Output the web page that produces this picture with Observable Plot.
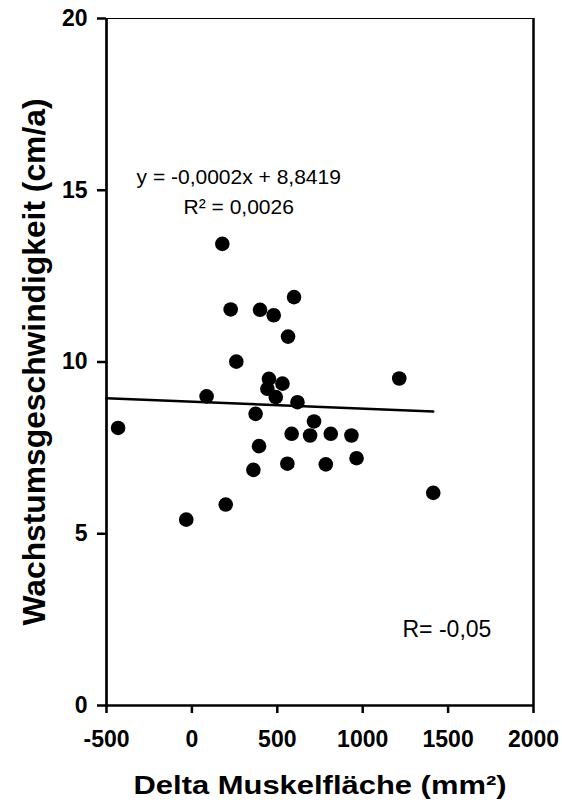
<!DOCTYPE html>
<html>
<head>
<meta charset="utf-8">
<script src="https://cdn.jsdelivr.net/npm/d3@7"></script>
<script src="https://cdn.jsdelivr.net/npm/@observablehq/plot@0.6"></script>
<style>
  html, body { margin: 0; padding: 0; background: #fff; }
</style>
</head>
<body>
<div id="chart"></div>
<script>
// Delta Muskelfläche (mm²)
const deltaMuskel = [-432, -33, 86, 178, 198, 227, 260, 360, 373, 393, 399, 442, 451, 479, 491, 530, 559, 563, 584, 598, 618, 692, 715, 784, 813, 934, 964, 1214, 1413];
// Wachstumsgeschwindigkeit (cm/a)
const wachstum = [8.08, 5.41, 9.00, 13.44, 5.85, 11.53, 10.01, 6.86, 8.49, 7.55, 11.52, 9.22, 9.51, 11.36, 8.98, 9.37, 7.04, 10.74, 7.91, 11.89, 8.83, 7.86, 8.27, 7.02, 7.91, 7.86, 7.20, 9.52, 6.19];

const xTicks = [-500, 0, 500, 1000, 1500, 2000];
const yTicks = [0, 5, 10, 15, 20];

// trendline from the chart's own equation
const slope = -0.0002;
const intercept = 8.8419;
const trendX = [-500, d3.max(deltaMuskel)];

const eqLines = ["y = -0,0002x + 8,8419", "R² = 0,0026"];
const eqX = [274, 274];
const eqY = [15.17, 14.32];
const rLabel = "R= -0,05";
const rX = 1233, rY = 1.99;

const xLabel = "Delta Muskelfläche (mm²)";
const yLabel = "Wachstumsgeschwindigkeit (cm/a)";

const points = deltaMuskel.map((x, i) => ({x, y: wachstum[i]}));
const trend = trendX.map(x => ({x, y: slope * x + intercept}));
const eq = eqLines.map((t, i) => ({t, x: eqX[i], y: eqY[i]}));

const chart = Plot.plot({
  width: 562,
  height: 806,
  marginLeft: 106,
  marginRight: 29,
  marginTop: 18,
  marginBottom: 101,
  style: {fontFamily: "'Liberation Sans', Arial, sans-serif", background: "#fff", color: "#000"},
  x: {domain: [-500, 2000]},
  y: {domain: [0, 20]},
  marks: [
    Plot.ruleY([20], {stroke: "#000", strokeWidth: 1}),
    Plot.ruleX([2000], {stroke: "#000", strokeWidth: 2.5}),
    Plot.line(trend, {x: "x", y: "y", stroke: "#000", strokeWidth: 2.5}),
    Plot.dot(points, {x: "x", y: "y", r: 7.3, fill: "#000", stroke: "none"}),
    Plot.ruleX([-500], {stroke: "#000", strokeWidth: 2.7}),
    Plot.ruleY([0], {stroke: "#000", strokeWidth: 2.7}),
    Plot.axisX({ticks: xTicks, tickSize: 8, tickPadding: 17, fontSize: 23, fontWeight: "bold", strokeWidth: 2.5, tickFormat: d => String(d), label: null}),
    Plot.axisY({ticks: yTicks, tickSize: 9, tickPadding: 10, fontSize: 23, fontWeight: "bold", strokeWidth: 2.5, tickFormat: d => String(d), label: null}),
    Plot.text(eq, {x: "x", y: "y", text: "t", fontSize: 21, textAnchor: "middle", lineAnchor: "bottom", fill: "#000"}),
    Plot.text([rLabel], {x: rX, y: rY, text: d => d, fontSize: 23, textAnchor: "start", lineAnchor: "bottom", fill: "#000"}),
    Plot.text([xLabel], {frameAnchor: "bottom", text: d => d, dy: 88, textAnchor: "middle", lineAnchor: "bottom", fontSize: 26, fontWeight: "bold", fill: "#000"}),
    Plot.text([yLabel], {frameAnchor: "left", text: d => d, rotate: -90, dx: -62, textAnchor: "middle", lineAnchor: "bottom", fontSize: 31, fontWeight: "bold", fill: "#000"})
  ]
});

document.getElementById("chart").appendChild(chart);
// stretch axis title lengths to the reference's
chart.querySelectorAll("text").forEach(t => {
  if (t.textContent === xLabel) { t.setAttribute("textLength", 373); t.setAttribute("lengthAdjust", "spacingAndGlyphs"); }
  if (t.textContent === yLabel) { t.setAttribute("textLength", 527); t.setAttribute("lengthAdjust", "spacingAndGlyphs"); }
});
</script>
</body>
</html>
